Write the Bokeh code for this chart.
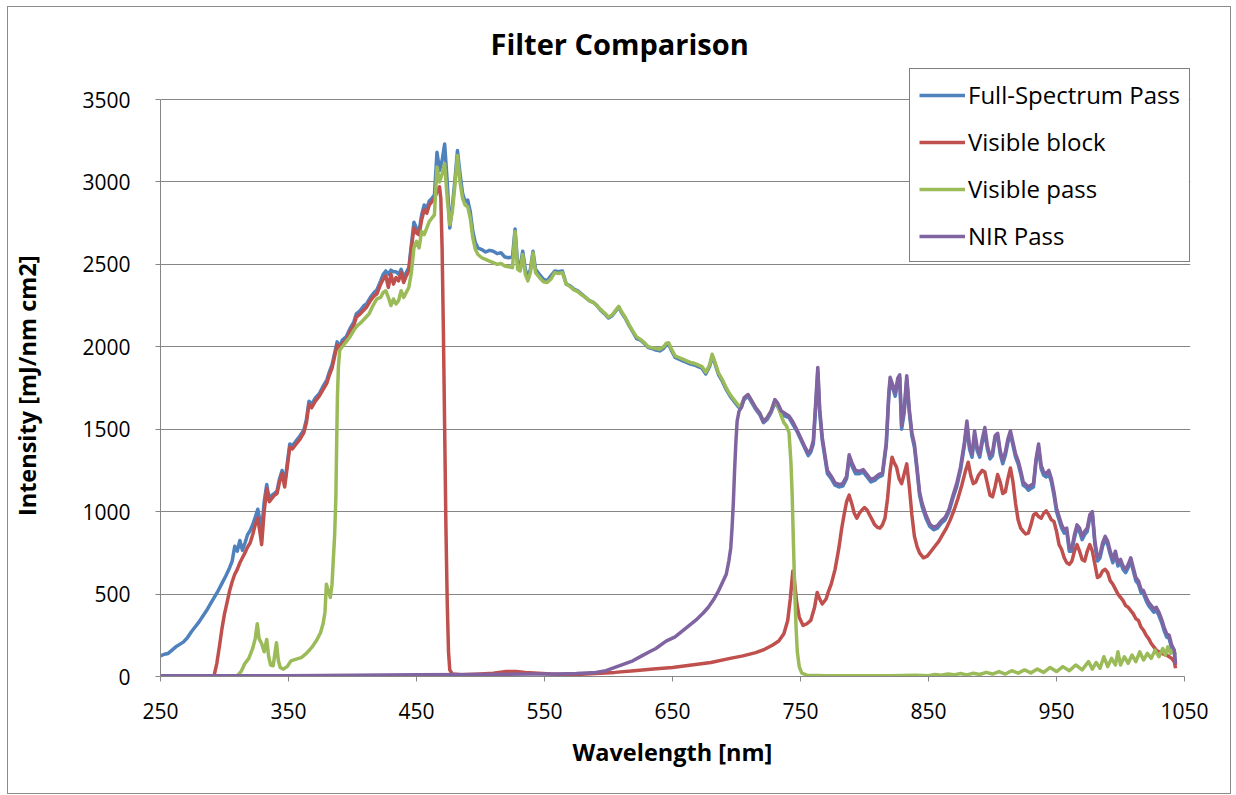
from bokeh.plotting import figure
from bokeh.models import Range1d, FixedTicker, Legend, LegendItem
from bokeh.embed import file_html
from bokeh.resources import INLINE

title_text = "Filter Comparison"
x_label = "Wavelength [nm]"
y_label = "Intensity [mJ/nm cm2]"
x_ticks = [250, 350, 450, 550, 650, 750, 850, 950, 1050]
y_ticks = [0, 500, 1000, 1500, 2000, 2500, 3000, 3500]
series_names = ["Full-Spectrum Pass", "Visible block", "Visible pass", "NIR Pass"]

full_x = [250, 253, 256, 259, 262, 265, 268, 271, 274, 277, 280, 283, 286, 289, 292, 295, 298, 301, 304, 306, 308, 310, 312, 314, 316, 318, 320, 322, 324, 326, 328, 329, 331, 333, 335, 337, 339, 341, 343, 345, 347, 349, 351, 353, 356, 359, 362, 364, 366, 368, 371, 374, 377, 380, 382, 384, 386, 388, 390, 392, 395, 398, 401, 403, 406, 409, 411, 414, 417, 419, 422, 424, 426, 428, 430, 432, 434, 436, 438, 440, 442, 444, 446, 448, 450, 452, 454, 456, 458, 460, 462, 464, 466, 468, 470, 472, 474, 476, 478, 480, 482, 484, 486, 488, 490, 492, 494, 496, 498, 501, 504, 507, 510, 513, 516, 519, 522, 525, 527, 529, 531, 533, 535, 537, 539, 541, 543, 546, 549, 552, 555, 558, 561, 564, 567, 570, 573, 576, 579, 582, 585, 588, 591, 594, 597, 600, 603, 606, 608, 610, 613, 616, 619, 622, 625, 628, 631, 634, 637, 640, 643, 645, 647, 649, 652, 655, 658, 661, 664, 667, 670, 673, 676, 679, 681, 683, 686, 689, 692, 695, 698, 701, 703, 706, 709, 712, 715, 718, 721, 724, 727, 730, 732, 735, 738, 741, 744, 747, 750, 753, 756, 758, 760, 762, 763.5, 765, 767, 769, 771, 774, 777, 780, 783, 786, 788, 790, 793, 796, 799, 802, 805, 808, 811, 814, 817, 819, 820, 822, 824, 826, 827.5, 829, 831, 833, 835, 837, 839, 841, 843, 845, 848, 851, 854, 857, 860, 863, 866, 869, 872, 875, 878, 880, 882, 884, 886, 888, 890, 892, 894, 896, 898, 900, 902, 904, 906, 908, 910, 912, 914, 916, 918, 920, 922, 924, 926, 928, 930, 932, 934, 936, 938, 940, 942, 944, 946, 948, 950, 952, 954, 956, 958, 960, 962, 964, 966, 968, 970, 972, 974, 976, 978, 980, 982, 984, 986, 988, 990, 992, 994, 996, 998, 1000, 1002, 1004, 1006, 1008, 1010, 1012, 1014, 1016, 1018, 1020, 1022, 1024, 1026, 1028, 1030, 1032, 1034, 1036, 1038, 1040, 1042, 1043]
full_y = [125, 135, 140, 160, 180, 195, 210, 235, 270, 300, 330, 365, 400, 440, 480, 520, 565, 610, 660, 700, 790, 760, 825, 765, 810, 860, 885, 920, 965, 1015, 930, 885, 1060, 1165, 1070, 1100, 1110, 1125, 1200, 1250, 1170, 1290, 1410, 1400, 1430, 1460, 1495, 1560, 1670, 1650, 1690, 1715, 1760, 1800, 1850, 1890, 1960, 2030, 2000, 2040, 2060, 2110, 2150, 2200, 2220, 2250, 2260, 2300, 2330, 2345, 2400, 2440, 2460, 2440, 2465, 2455, 2455, 2440, 2470, 2420, 2450, 2480, 2620, 2755, 2720, 2700, 2800, 2860, 2840, 2885, 2900, 2920, 3180, 3070, 3130, 3230, 3000, 2720, 2850, 3010, 3190, 3050, 2930, 2880, 2890, 2820, 2700, 2630, 2600, 2590, 2575, 2585, 2580, 2565, 2570, 2545, 2540, 2545, 2715, 2500, 2490, 2580, 2470, 2420, 2470, 2580, 2470, 2440, 2410, 2400, 2430, 2460, 2455, 2460, 2380, 2370, 2350, 2340, 2320, 2300, 2280, 2270, 2250, 2220, 2200, 2175, 2190, 2220, 2240, 2210, 2175, 2130, 2090, 2050, 2040, 2020, 1995, 1990, 1980, 1975, 1990, 2010, 2016, 1980, 1935, 1925, 1915, 1905, 1895, 1890, 1880, 1870, 1835, 1880, 1945, 1900, 1830, 1790, 1740, 1700, 1670, 1640, 1625, 1680, 1700, 1660, 1620, 1590, 1540, 1560, 1600, 1660, 1640, 1590, 1580, 1570, 1530, 1490, 1440, 1390, 1340, 1360, 1410, 1650, 1850, 1600, 1430, 1330, 1230, 1200, 1160, 1150, 1155, 1200, 1320, 1280, 1230, 1230, 1240, 1210, 1180, 1190, 1210, 1220, 1400, 1700, 1790, 1750, 1700, 1790, 1810, 1500, 1600, 1800, 1600, 1460, 1390, 1250, 1100, 1030, 960, 910, 890, 900, 930, 950, 1000, 1080, 1150, 1250, 1400, 1520, 1380, 1330, 1460, 1370, 1330, 1420, 1480, 1380, 1320, 1340, 1440, 1460, 1350, 1290, 1340, 1420, 1470, 1400, 1330, 1290, 1230, 1160, 1150, 1130, 1140, 1150, 1300, 1390, 1260, 1220, 1210, 1230, 1180, 1100, 1000, 950, 900, 870, 880, 760, 760, 840, 900, 880, 830, 860, 880, 960, 980, 800, 700, 720, 790, 830, 800, 740, 690, 740, 670, 690, 650, 630, 660, 700, 640, 580, 560, 510, 500, 460, 430, 410, 390, 400, 370, 330, 280, 240, 230, 170, 140, 70]

block_x = [250, 260, 270, 280, 290, 292, 294, 296, 298, 300, 302, 304, 306, 308, 310, 312, 314, 316, 318, 320, 322, 324, 326, 328, 329, 331, 333, 335, 337, 339, 341, 343, 345, 347, 349, 351, 353, 356, 359, 362, 364, 366, 368, 371, 374, 377, 380, 382, 384, 386, 388, 390, 392, 395, 398, 401, 403, 406, 409, 411, 414, 417, 419, 422, 424, 426, 428, 430, 432, 434, 436, 438, 440, 442, 444, 446, 448, 450, 452, 454, 456, 458, 460, 462, 464, 466, 468, 469, 470, 471, 472, 473, 474, 475, 476, 478, 485, 500, 510, 520, 528, 535, 545, 555, 565, 575, 590, 605, 620, 635, 650, 665, 680, 695, 705, 715, 722, 728, 733, 737, 740, 742, 744, 745, 747, 749, 752, 755, 758, 761, 763, 765, 767, 770, 772, 774, 777, 780, 782, 784, 786, 788, 790, 792, 794, 796, 798, 800, 802, 804, 806, 808, 810, 812, 814, 816, 818, 820, 821.5, 823, 825, 827, 829, 831, 833, 835, 837, 839, 841, 843, 846, 849, 852, 855, 858, 861, 864, 867, 870, 873, 876, 879, 881, 883, 885, 887, 889, 892, 894, 896, 898, 900, 902, 904, 906, 908, 910, 912, 914, 916, 918, 920, 922, 924, 926, 928, 930, 932, 934, 936, 938, 940, 942, 944, 946, 948, 950, 952, 954, 956, 958, 960, 962, 964, 966, 968, 970, 972, 974, 976, 978, 980, 982, 984, 986, 988, 990, 992, 994, 996, 998, 1000, 1002, 1004, 1006, 1008, 1010, 1012, 1014, 1016, 1018, 1020, 1022, 1024, 1026, 1028, 1030, 1032, 1034, 1036, 1038, 1040, 1042, 1043]
block_y = [5, 5, 5, 5, 5, 10, 80, 180, 290, 380, 450, 520, 575, 620, 650, 690, 720, 750, 785, 810, 860, 920, 960, 860, 800, 1000, 1140, 1060, 1080, 1100, 1110, 1180, 1230, 1150, 1270, 1390, 1380, 1410, 1440, 1480, 1540, 1650, 1630, 1670, 1700, 1740, 1780, 1830, 1870, 1940, 2010, 1985, 2020, 2040, 2090, 2130, 2180, 2200, 2225, 2240, 2280, 2310, 2320, 2380, 2410, 2430, 2360, 2440, 2380, 2420, 2400, 2450, 2390, 2430, 2460, 2600, 2720, 2690, 2680, 2770, 2830, 2810, 2860, 2880, 2900, 2940, 2970, 2900, 2600, 2100, 1500, 900, 450, 150, 40, 15, 10, 15, 20, 30, 30, 25, 20, 15, 12, 12, 18, 25, 35, 45, 55, 70, 85, 110, 125, 145, 165, 190, 215, 260, 340, 470, 640, 600, 450, 360, 310, 320, 340, 420, 510, 470, 440, 470, 520, 560, 650, 780, 890, 980, 1060, 1100, 1050, 990, 960, 990, 1010, 1025, 1010, 980, 950, 920, 905, 900, 920, 960, 1080, 1250, 1330, 1300, 1270, 1200, 1170, 1230, 1290, 1150, 980, 850, 790, 750, 720, 730, 760, 790, 820, 860, 900, 950, 1010, 1080, 1160, 1250, 1300, 1220, 1170, 1180, 1220, 1250, 1240, 1170, 1100, 1090, 1150, 1225, 1180, 1110, 1120, 1200, 1265, 1180, 1050, 950, 900, 880, 865, 870, 920, 980, 990, 970, 960, 990, 1005, 980, 950, 940, 880, 800, 770, 720, 690, 680, 700, 760, 800, 760, 710, 700, 760, 800, 760, 680, 600, 610, 640, 650, 630, 580, 560, 530, 500, 480, 460, 430, 420, 400, 380, 350, 340, 300, 280, 250, 230, 200, 180, 160, 150, 140, 135, 130, 120, 110, 90, 50]

vpass_x = [250, 280, 300, 310, 313, 316, 319, 322, 324, 325.6, 327, 329, 331, 333, 334.5, 336, 338, 340.6, 342, 343.5, 346, 349, 352, 356, 360, 364, 368, 372, 375, 377, 378.5, 379.6, 381, 382.7, 384, 384.8, 386, 387, 387.6, 388.2, 389, 390, 392, 395, 398, 401, 404, 407, 410, 413, 416, 419, 422, 424, 426, 428, 430, 432, 434, 436, 438, 440, 442, 444, 446, 448, 450, 452, 454, 456, 458, 460, 462, 464, 466, 468, 470, 472, 474, 476, 478, 480, 482, 484, 486, 488, 490, 492, 494, 496, 498, 501, 504, 507, 510, 513, 516, 519, 522, 525, 527, 529, 531, 533, 535, 537, 539, 541, 543, 546, 549, 552, 555, 558, 561, 564, 567, 570, 573, 576, 579, 582, 585, 588, 591, 594, 597, 600, 603, 606, 608, 610, 613, 616, 619, 622, 625, 628, 631, 634, 637, 640, 643, 645, 647, 649, 652, 655, 658, 661, 664, 667, 670, 673, 676, 679, 681, 683, 686, 689, 692, 695, 698, 701, 703, 706, 709, 712, 715, 718, 721, 724, 727, 730, 732, 735, 737, 739, 741, 742.5, 743.5, 744.5, 745.5, 746.5, 747.5, 749, 751, 755, 770, 800, 820, 840, 850, 855, 860, 865, 870, 875, 880, 885, 890, 895, 900, 905, 910, 915, 920, 925, 930, 935, 940, 945, 950, 955, 960, 965, 970, 975, 978, 981, 984, 987, 990, 993, 996, 998, 1000, 1003, 1006, 1009, 1012, 1015, 1018, 1021, 1024, 1027, 1030, 1033, 1035, 1037, 1039, 1041, 1043]
vpass_y = [3, 3, 3, 5, 30, 80, 110, 170, 230, 320, 230, 200, 150, 225, 120, 70, 65, 205, 100, 55, 45, 60, 95, 105, 115, 140, 175, 220, 265, 320, 390, 560, 520, 480, 560, 680, 850, 1086, 1400, 1692, 1880, 1980, 2000, 2030, 2060, 2100, 2130, 2150, 2175, 2200, 2250, 2290, 2300, 2330, 2340, 2300, 2250, 2290, 2260, 2280, 2340, 2300, 2330, 2360, 2450, 2600, 2640, 2600, 2700, 2680, 2720, 2760, 2780, 2800, 3090, 3000, 3050, 3110, 2900, 2740, 2820, 2980, 3160, 3000, 2900, 2860, 2850, 2780, 2660, 2590, 2560, 2540, 2530, 2520, 2510, 2500, 2505, 2490, 2485, 2480, 2700, 2470, 2460, 2560, 2440, 2400, 2450, 2570, 2450, 2420, 2395, 2390, 2410, 2450, 2445, 2450, 2380, 2365, 2345, 2335, 2315, 2300, 2280, 2270, 2250, 2225, 2205, 2180, 2195, 2225, 2245, 2215, 2180, 2135, 2095, 2060, 2045, 2025, 2000, 1995, 1990, 1985, 2000, 2020, 2025, 1990, 1945, 1935, 1925, 1915, 1905, 1900, 1890, 1880, 1845, 1890, 1955, 1910, 1840, 1800, 1750, 1710, 1680, 1650, 1635, 1690, 1710, 1670, 1630, 1600, 1550, 1570, 1610, 1670, 1650, 1580, 1540, 1520, 1480, 1300, 1100, 800, 520, 300, 150, 60, 20, 8, 5, 5, 5, 8, 5, 12, 8, 15, 10, 18, 10, 20, 12, 25, 15, 30, 15, 35, 20, 40, 22, 45, 25, 55, 30, 60, 35, 70, 40, 90, 45, 85, 50, 120, 60, 110, 70, 150, 70, 120, 80, 130, 90, 150, 100, 140, 110, 160, 120, 170, 130, 180, 140, 170, 130]

nir_x = [250, 300, 350, 400, 450, 500, 540, 560, 575, 590, 598, 605, 612, 619, 626, 632, 637, 645, 652, 660, 668, 674, 678, 682, 686, 689, 692, 694, 695.5, 696.5, 697.5, 698.5, 699.5, 700.5, 702, 704, 706, 709, 712, 715, 718, 721, 724, 727, 730, 732, 735, 738, 741, 744, 747, 750, 753, 756, 758, 760, 762, 763.5, 765, 767, 769, 771, 774, 777, 780, 783, 786, 788, 790, 793, 796, 799, 802, 805, 808, 811, 814, 817, 819, 820, 822, 824, 826, 827.5, 829, 831, 833, 835, 837, 839, 841, 843, 845, 848, 851, 854, 857, 860, 863, 866, 869, 872, 875, 878, 880, 882, 884, 886, 888, 890, 892, 894, 896, 898, 900, 902, 904, 906, 908, 910, 912, 914, 916, 918, 920, 922, 924, 926, 928, 930, 932, 934, 936, 938, 940, 942, 944, 946, 948, 950, 952, 954, 956, 958, 960, 962, 964, 966, 968, 970, 972, 974, 976, 978, 980, 982, 984, 986, 988, 990, 992, 994, 996, 998, 1000, 1002, 1004, 1006, 1008, 1010, 1012, 1014, 1016, 1018, 1020, 1022, 1024, 1026, 1028, 1030, 1032, 1034, 1036, 1038, 1040, 1042, 1043]
nir_y = [5, 5, 5, 8, 10, 12, 15, 15, 18, 25, 35, 55, 75, 95, 125, 150, 170, 215, 240, 290, 340, 385, 420, 465, 520, 570, 620, 700, 780, 900, 1050, 1250, 1420, 1550, 1610, 1635, 1690, 1710, 1670, 1630, 1600, 1545, 1570, 1610, 1680, 1660, 1610, 1595, 1580, 1545, 1500, 1450, 1400, 1355, 1375, 1430, 1680, 1875, 1620, 1450, 1350, 1250, 1215, 1175, 1165, 1170, 1215, 1345, 1300, 1250, 1245, 1255, 1225, 1195, 1205, 1225, 1235, 1420, 1720, 1815, 1770, 1720, 1810, 1830, 1520, 1620, 1825, 1620, 1480, 1410, 1270, 1120, 1050, 980, 925, 905, 915, 945, 965, 1015, 1095, 1170, 1270, 1420, 1550, 1400, 1350, 1490, 1390, 1350, 1440, 1510, 1400, 1340, 1360, 1460, 1475, 1370, 1310, 1360, 1440, 1490, 1420, 1350, 1310, 1250, 1180, 1165, 1150, 1160, 1170, 1320, 1410, 1280, 1240, 1230, 1250, 1200, 1120, 1020, 970, 920, 890, 900, 780, 780, 860, 920, 900, 850, 880, 900, 980, 1000, 820, 720, 740, 810, 850, 820, 760, 710, 760, 690, 710, 670, 650, 680, 720, 660, 600, 580, 530, 520, 480, 450, 430, 410, 420, 390, 350, 300, 260, 250, 190, 160, 80]

colors = ["#4F81BD", "#C0504D", "#9BBB59", "#8064A2"]
FONT = "Open Sans"

# Frame is a little larger than the axes (up and right) so the legend box can overhang the
# 3500 gridline as in the reference without being clipped.
FRAME_H, GRID_H = 612, 577
FRAME_W, GRID_W = 1033, 1027
y_top = y_ticks[0] + (y_ticks[-1] - y_ticks[0]) * FRAME_H / GRID_H
x_right = x_ticks[0] + (x_ticks[-1] - x_ticks[0]) * FRAME_W / GRID_W

p = figure(width=1222, height=786, x_range=Range1d(x_ticks[0], x_right), y_range=Range1d(y_ticks[0], y_top),
           output_backend="svg", toolbar_location=None,
           min_border_left=149, min_border_right=40, min_border_top=57, min_border_bottom=117)
p.styles = {"margin-left": "8px", "margin-top": "7px", "outline": "1px solid #8c8c8c"}

renderers = []
for xs, ys, c in zip([full_x, block_x, vpass_x, nir_x], [full_y, block_y, vpass_y, nir_y], colors):
    r = p.line(xs, ys, line_color=c, line_width=3.5, line_join="round")
    renderers.append(r)

p.title.text = title_text
p.title.align = "left"
p.title.offset = 330
p.title.text_font = FONT
p.title.text_font_size = "29px"
p.title.text_font_style = "bold"
p.title.text_color = "#000000"
p.title.standoff = 4

p.xgrid.grid_line_color = None
p.ygrid.grid_line_color = "#868686"
p.ygrid.grid_line_width = 1
p.outline_line_color = None

for ax in (p.xaxis[0], p.yaxis[0]):
    ax.axis_line_color = "#868686"
    ax.major_tick_line_color = "#868686"
    ax.major_tick_out = 5
    ax.major_tick_in = 0
    ax.minor_tick_line_color = None
    ax.major_label_text_font = FONT
    ax.major_label_text_font_size = "21px"
    ax.major_label_text_color = "#000000"
    ax.axis_label_text_font = FONT
    ax.axis_label_text_font_size = "23.5px"
    ax.axis_label_text_font_style = "bold"
    ax.axis_label_text_color = "#000000"

p.xaxis.ticker = FixedTicker(ticks=x_ticks)
p.yaxis.ticker = FixedTicker(ticks=y_ticks)
p.yaxis.bounds = (y_ticks[0], y_ticks[-1])
p.xaxis.bounds = (x_ticks[0], x_ticks[-1])
# non-breaking spaces keep the labels centred on the drawn part of each axis
p.xaxis.axis_label = x_label + "\u00a0"
p.yaxis.axis_label = y_label + "\u00a0" * 5
p.xaxis.major_label_standoff = 21
p.yaxis.major_label_standoff = 25
p.xaxis.axis_label_standoff = 14
p.yaxis.axis_label_standoff = 36

legend = Legend(items=[LegendItem(label=n, renderers=[r]) for n, r in zip(series_names, renderers)],
                location=(749, 414))
legend.label_text_font = FONT
legend.label_text_font_size = "24px"
legend.label_text_color = "#000000"
legend.border_line_color = "#000000"
legend.border_line_width = 1
legend.background_fill_alpha = 1.0
legend.padding = 9
legend.spacing = 14
legend.glyph_width = 46
legend.glyph_height = 24
legend.label_height = 24
legend.label_standoff = 3
legend.margin = 0
p.add_layout(legend, "center")

open("out.html", "w").write(file_html(p, INLINE))
